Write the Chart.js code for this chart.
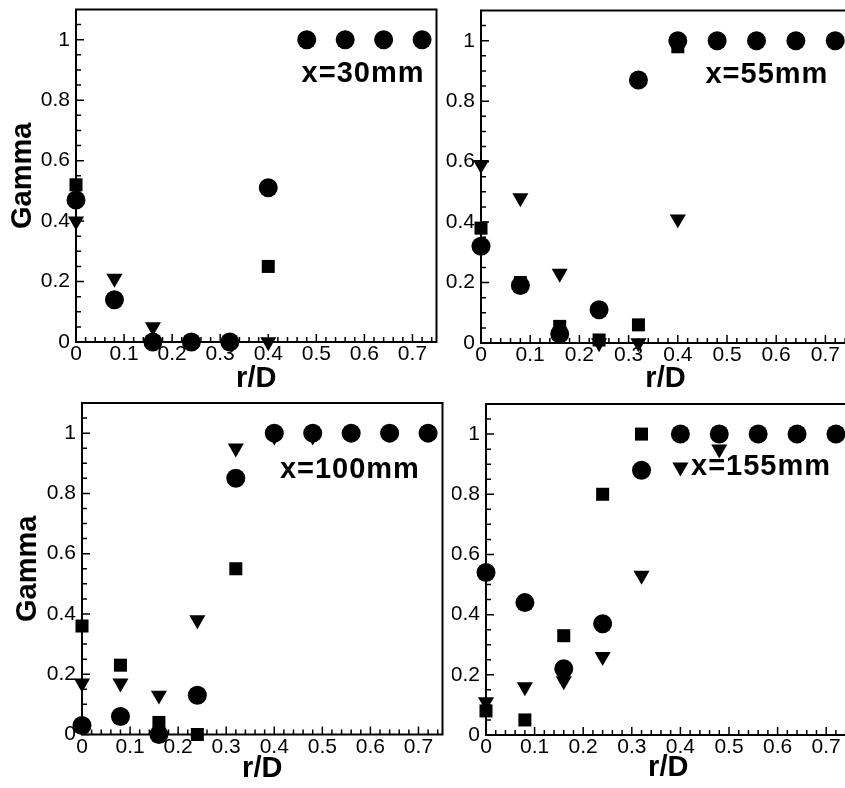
<!DOCTYPE html>
<html>
<head>
<script src="https://cdn.jsdelivr.net/npm/chart.js"></script>
<title>Gamma vs r/D</title>
<style>
    body { margin: 0; width: 845px; height: 788px; overflow: hidden; position: relative; background: #fff; }
    canvas { position: absolute; }
</style>
</head>
<body>
<canvas id="c30"></canvas>
<canvas id="c55"></canvas>
<canvas id="c100"></canvas>
<canvas id="c155"></canvas>

<script>
// radial stations (r/D) shared by every measurement
const rD = [0, 0.08, 0.16, 0.24, 0.32, 0.40, 0.48, 0.56, 0.64, 0.72];
const xTicks = [0, 0.1, 0.2, 0.3, 0.4, 0.5, 0.6, 0.7];
const yTicks = [0, 0.2, 0.4, 0.6, 0.8, 1];
const stations = ['x=30mm', 'x=55mm', 'x=100mm', 'x=155mm'];

// gamma at x=30mm
const circles30   = [0.47, 0.14, 0, 0, 0, 0.51, 1, 1, 1, 1];
const squares30   = [0.52, 0.14, 0, 0, 0, 0.25, 1, 1, 1, 1];
const triangles30 = [0.40, 0.21, 0.05, 0, 0, 0, 1, 1, 1, 1];
// x=55mm
const circles55   = [0.32, 0.19, 0.03, 0.11, 0.87, 1, 1, 1, 1, 1];
const squares55   = [0.38, 0.20, 0.055, 0.01, 0.06, 0.98, 1, 1, 1, 1];
const triangles55 = [0.59, 0.48, 0.23, 0, 0, 0.41, 1, 1, 1, 1];
// x=100mm
const circles100   = [0.03, 0.06, 0, 0.13, 0.85, 1, 1, 1, 1, 1];
const squares100   = [0.36, 0.23, 0.04, 0, 0.55, 1, 1, 1, 1, 1];
const triangles100 = [0.17, 0.17, 0.13, 0.38, 0.95, 0.99, 0.99, 1, 1, 1];
// x=155mm
const circles155   = [0.54, 0.44, 0.22, 0.37, 0.88, 1, 1, 1, 1, 1];
const squares155   = [0.08, 0.05, 0.33, 0.80, 1, 1, 1, 1, 1, 1];
const triangles155 = [0.11, 0.16, 0.18, 0.26, 0.53, 0.89, 0.95, 1, 1, 1];

const FONT = '"Liberation Sans", Arial, sans-serif';

// box frame plus inward major/minor ticks on the left and bottom edges
const frame = {
    id: 'frame',
    beforeDatasetsDraw(chart) {
        const { ctx, chartArea: a, scales: { x, y } } = chart;
        ctx.save();
        ctx.strokeStyle = '#000';
        ctx.lineWidth = 2;
        ctx.strokeRect(a.left, a.top, a.right - a.left, a.bottom - a.top);
        ctx.lineWidth = 1.5;
        ctx.beginPath();
        for (let i = 0; i <= 37; i++) {
            const px = x.getPixelForValue(i * 0.02);
            const len = i % 5 === 0 ? 8 : 5;
            ctx.moveTo(px, a.bottom);
            ctx.lineTo(px, a.bottom - len);
        }
        for (let i = 0; i <= 21; i++) {
            const py = y.getPixelForValue(i * 0.05);
            const len = i % 4 === 0 ? 8 : 5;
            ctx.moveTo(a.left, py);
            ctx.lineTo(a.left + len, py);
        }
        ctx.stroke();
        ctx.restore();
    }
};

// station text inside each panel
const stationLabel = {
    id: 'stationLabel',
    afterDatasetsDraw(chart, args, opts) {
        const { ctx, scales: { x, y } } = chart;
        ctx.save();
        ctx.font = 'bold 29px ' + FONT;
        ctx.letterSpacing = '1px';
        ctx.textAlign = 'right';
        ctx.textBaseline = 'middle';
        ctx.fillStyle = '#000';
        ctx.fillText(opts.text, x.getPixelForValue(opts.at[0]), y.getPixelForValue(opts.at[1]));
        ctx.restore();
    }
};

function pts(vals) {
    return vals.map((v, i) => ({ x: rD[i], y: v }));
}

function makePanel(p) {
    const cv = document.getElementById(p.id);
    cv.width = p.canvas.w;
    cv.height = p.canvas.h;
    cv.style.left = p.canvas.x + 'px';
    cv.style.top = p.canvas.y + 'px';

    const yAxisW = p.plot.left - p.canvas.x;
    const xAxisH = p.canvas.y + p.canvas.h - p.plot.bottom;
    const marker = { backgroundColor: '#000', borderColor: '#000', borderWidth: 0, clip: false };

    new Chart(cv, {
        type: 'scatter',
        data: {
            datasets: [
                { ...marker, data: pts(p.circles), pointStyle: 'circle', pointRadius: 9.5 },
                { ...marker, data: pts(p.squares), pointStyle: 'rect', pointRadius: 9.2 },
                { ...marker, data: pts(p.triangles), pointStyle: 'triangle', pointRotation: 180, pointRadius: 9.3 }
            ]
        },
        options: {
            responsive: false,
            animation: false,
            devicePixelRatio: 1,
            events: [],
            layout: {
                padding: { top: p.plot.top - p.canvas.y, right: p.canvas.x + p.canvas.w - p.plot.right, left: 0, bottom: 0 }
            },
            plugins: {
                legend: { display: false },
                tooltip: { enabled: false },
                stationLabel: { text: p.label, at: p.labelAt }
            },
            scales: {
                x: {
                    type: 'linear',
                    min: 0,
                    max: 0.75,
                    grid: { display: false, drawTicks: false },
                    border: { display: false },
                    afterBuildTicks: s => { s.ticks = xTicks.map(v => ({ value: v })); },
                    afterFit: s => {
                        s.height = xAxisH;
                        s.paddingLeft = 0;
                        s.paddingRight = 0;
                    },
                    ticks: {
                        padding: 0,
                        color: '#000',
                        font: { family: FONT, size: 21 },
                        maxRotation: 0,
                        autoSkip: false,
                        callback: v => String(v)
                    },
                    title: {
                        display: true,
                        text: 'r/D',
                        color: '#000',
                        font: { family: FONT, size: 29, weight: 'bold', lineHeight: 1 },
                        padding: { top: 0, bottom: p.rdPad }
                    }
                },
                y: {
                    type: 'linear',
                    min: 0,
                    max: 1.1,
                    grid: { display: false, drawTicks: false },
                    border: { display: false },
                    afterBuildTicks: s => { s.ticks = yTicks.map(v => ({ value: v })); },
                    afterFit: s => {
                        s.width = yAxisW;
                        s.paddingTop = 0;
                        s.paddingBottom = 0;
                    },
                    ticks: {
                        padding: 6,
                        color: '#000',
                        font: { family: FONT, size: 21 },
                        callback: v => String(v)
                    },
                    title: {
                        display: p.gamma,
                        text: 'Gamma',
                        color: '#000',
                        font: { family: FONT, size: 29, weight: 'bold', lineHeight: 1 },
                        padding: { top: p.gammaPad, bottom: 0 }
                    }
                }
            }
        },
        plugins: [frame, stationLabel]
    });
}

makePanel({
    id: 'c30', label: stations[0], labelAt: [0.725, 0.885],
    canvas: { x: 0, y: 0, w: 446, h: 393 }, plot: { left: 76, top: 9, right: 440, bottom: 342 },
    gamma: true, gammaPad: 8.5, rdPad: 0,
    circles: circles30, squares: squares30, triangles: triangles30
});
makePanel({
    id: 'c55', label: stations[1], labelAt: [0.706, 0.887],
    canvas: { x: 446, y: 0, w: 414, h: 393 }, plot: { left: 481, top: 10.5, right: 850, bottom: 343 },
    gamma: false, gammaPad: 0, rdPad: 0,
    circles: circles55, squares: squares55, triangles: triangles55
});
makePanel({
    id: 'c100', label: stations[2], labelAt: [0.703, 0.879],
    canvas: { x: 0, y: 393, w: 452, h: 395 }, plot: { left: 82, top: 403, right: 445, bottom: 734.5 },
    gamma: true, gammaPad: 13.5, rdPad: 4.5,
    circles: circles100, squares: squares100, triangles: triangles100
});
makePanel({
    id: 'c155', label: stations[3], labelAt: [0.71, 0.889],
    canvas: { x: 452, y: 393, w: 408, h: 395 }, plot: { left: 486, top: 404, right: 855, bottom: 735 },
    gamma: false, gammaPad: 0, rdPad: 6,
    circles: circles155, squares: squares155, triangles: triangles155
});
</script>
</body>
</html>
